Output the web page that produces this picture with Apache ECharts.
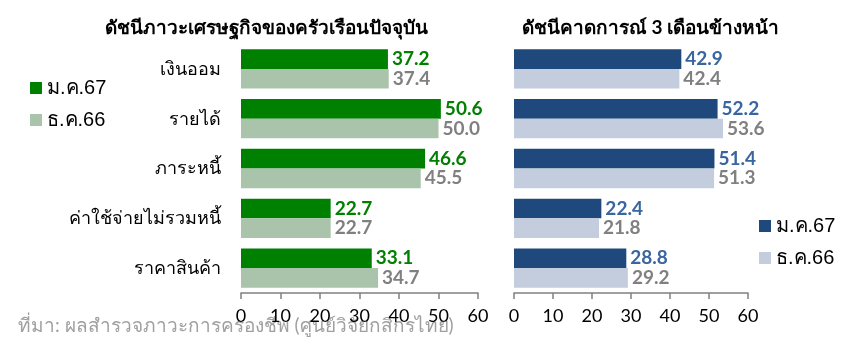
<!DOCTYPE html>
<html><head><meta charset="utf-8">
<script src="https://cdn.jsdelivr.net/npm/echarts@6/dist/echarts.min.js"></script>
<style>html,body{margin:0;padding:0;background:#fff}#c{width:858px;height:345px}</style>
</head><body><div id="c"></div>
<script>
const categories = ['เงินออม', 'รายได้', 'ภาระหนี้', 'ค่าใช้จ่ายไม่รวมหนี้', 'ราคาสินค้า'];
const currentJan67 = [37.2, 50.6, 46.6, 22.7, 33.1];
const currentDec66 = [37.4, 50.0, 45.5, 22.7, 34.7];
const outlookJan67 = [42.9, 52.2, 51.4, 22.4, 28.8];
const outlookDec66 = [42.4, 53.6, 51.3, 21.8, 29.2];
const xTicks = [0, 10, 20, 30, 40, 50, 60];
const titleLeft = 'ดัชนีภาวะเศรษฐกิจของครัวเรือนปัจจุบัน';
const titleRight = 'ดัชนีคาดการณ์ 3 เดือนข้างหน้า';
const sourceText = 'ที่มา: ผลสำรวจภาวะการครองชีพ (ศูนย์วิจัยกสิกรไทย)';

const FONT = 'Lato, "Noto Sans", sans-serif';
const LEGEND_FONT = '"Liberation Sans", Arial, sans-serif';
const chart = echarts.init(document.getElementById('c'));

function xAxis(gi) {
  return {
    gridIndex: gi, type: 'value', min: xTicks[0], max: xTicks[xTicks.length-1], interval: 10,
    splitLine: {show: false},
    axisLine: {show: true, lineStyle: {color: '#808080', width: 1.5}},
    axisTick: {show: true, inside: false, length: 6, lineStyle: {color: '#808080', width: 1.5}},
    axisLabel: {color: '#000', fontSize: 18, fontFamily: FONT, margin: 14}
  };
}
function yAxis(gi, showLabels) {
  return {
    gridIndex: gi, type: 'category', data: categories, inverse: true,
    axisLine: {show: false}, axisTick: {show: false},
    axisLabel: {show: showLabels, color: '#000', fontSize: 18, fontFamily: FONT, margin: 20}
  };
}
function bar(name, data, gi, color, labelColor) {
  return {
    name: name, type: 'bar', xAxisIndex: gi, yAxisIndex: gi, data: data,
    barGap: '0%', barCategoryGap: '21%',
    itemStyle: {color: color},
    label: {show: true, position: 'right', distance: 4, color: labelColor,
      fontWeight: 'bold', fontSize: 19, fontFamily: FONT,
      formatter: p => p.value.toFixed(1)}
  };
}

chart.setOption({
  animation: false,
  title: [
    {text: titleLeft, left: 100, top: 13, textStyle: {fontSize: 19, fontWeight: 'bold', color: '#000', fontFamily: FONT}},
    {text: titleRight, left: 517, top: 13, textStyle: {fontSize: 19, fontWeight: 'bold', color: '#000', fontFamily: FONT}}
  ],
  legend: [
    {data: ['ม.ค.67', 'ธ.ค.66'], orient: 'vertical', left: 25, top: 73, itemWidth: 12, itemHeight: 12, itemGap: 12,
      icon: 'rect', textStyle: {fontSize: 20, color: '#000', fontFamily: LEGEND_FONT}, selectedMode: false},
    {data: ['ม.ค.67 ', 'ธ.ค.66 '], orient: 'vertical', left: 754, top: 211, itemWidth: 12, itemHeight: 12, itemGap: 12,
      icon: 'rect', textStyle: {fontSize: 20, color: '#000', fontFamily: LEGEND_FONT}, selectedMode: false,
      formatter: n => n.trim()}
  ],
  grid: [
    {left: 241, right: 380, top: 44, bottom: 52},
    {left: 514, right: 110, top: 44, bottom: 52}
  ],
  xAxis: [xAxis(0), xAxis(1)],
  yAxis: [yAxis(0, true), yAxis(1, false)],
  series: [
    bar('ม.ค.67', currentJan67, 0, '#008000', '#008000'),
    bar('ธ.ค.66', currentDec66, 0, '#A9C4AA', '#808080'),
    bar('ม.ค.67 ', outlookJan67, 1, '#1F497D', '#3A66A0'),
    bar('ธ.ค.66 ', outlookDec66, 1, '#C3CDDD', '#808080')
  ],
  graphic: [
    {type: 'text', left: 18, top: 316, silent: true,
      style: {text: sourceText, fontSize: 19, fill: '#A0A0A0', fontFamily: FONT}}
  ]
});
</script></body></html>
